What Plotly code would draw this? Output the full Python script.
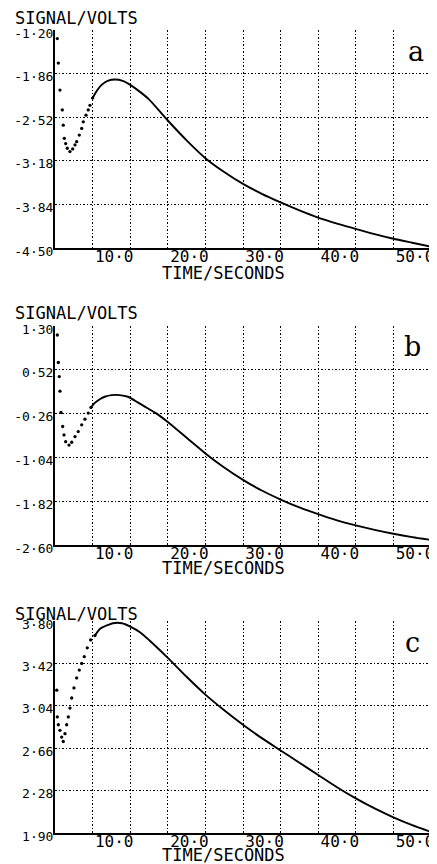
import plotly.graph_objects as go

# page shows the figure with an 8px body margin, so the figure is drawn
# 8px smaller and all pixel positions below are given in window pixels
PAGE_OFFSET = 8
W, H = 437 - PAGE_OFFSET, 864 - PAGE_OFFSET

# ---------------- data ----------------
time_ticks = [5, 10, 15, 20, 25, 30, 35, 40, 45, 50]
time_labels = ["", "10·0", "", "20·0", "", "30·0", "", "40·0", "", "50·0"]

# panel a
a_dot_t = [0.31, 0.44, 0.66, 0.97, 1.10, 1.24, 1.42, 1.63, 1.99, 2.35, 2.66, 2.88,
           3.23, 3.55, 3.76, 4.12, 4.42, 4.65, 5.00]
a_dot_v = [-1.33, -1.70, -2.11, -2.41, -2.64, -2.84, -2.92, -2.99, -3.04, -3.00, -2.94, -2.89,
           -2.79, -2.69, -2.59, -2.49, -2.41, -2.34, -2.23]
a_line_t = [5.0, 5.5, 6.2, 7.0, 8.0, 9.0, 10.0, 11.0, 12.5, 15.0, 17.5, 20.0, 22.5, 25.0,
            27.5, 30.0, 32.5, 35.0, 37.5, 40.0, 42.5, 45.0, 47.5, 50.0]
a_line_v = [-2.23, -2.13, -2.03, -1.97, -1.95, -1.97, -2.03, -2.11, -2.25, -2.57, -2.87, -3.14,
            -3.35, -3.53, -3.68, -3.81, -3.93, -4.04, -4.13, -4.21, -4.29, -4.36, -4.42, -4.48]
a_yticks = [-4.50, -3.84, -3.18, -2.52, -1.86, -1.20]

# panel b
b_dot_t = [0.31, 0.44, 0.57, 0.66, 0.80, 1.02, 1.20, 1.42, 1.86, 2.22, 2.66, 3.09,
           3.55, 3.98, 4.42, 4.78]
b_dot_v = [1.14, 0.65, 0.40, 0.14, -0.24, -0.49, -0.64, -0.76, -0.82, -0.77, -0.67, -0.58,
           -0.46, -0.36, -0.25, -0.15]
b_line_t = [4.78, 5.3, 6.0, 6.6, 7.5, 8.6, 9.7, 11.0, 12.0, 13.5, 15.0, 17.5, 20.0, 22.5,
            25.0, 27.5, 30.0, 32.5, 35.0, 37.5, 40.0, 42.5, 45.0, 47.5, 50.0]
b_line_v = [-0.15, -0.07, 0.00, 0.04, 0.07, 0.07, 0.04, -0.06, -0.14, -0.26, -0.41, -0.69,
            -0.97, -1.22, -1.44, -1.63, -1.79, -1.93, -2.05, -2.16, -2.25, -2.33, -2.40,
            -2.46, -2.51]
b_yticks = [-2.60, -1.82, -1.04, -0.26, 0.52, 1.30]

# panel c
c_dot_t = [0.23, 0.31, 0.44, 0.66, 0.89, 1.10, 1.33, 1.55, 1.77, 1.99, 2.22, 2.52, 2.88,
           3.23, 3.55, 3.89, 4.29, 4.74, 5.31]
c_dot_v = [3.18, 2.94, 2.87, 2.82, 2.76, 2.72, 2.79, 2.87, 2.94, 3.02, 3.11, 3.20, 3.29,
           3.36, 3.42, 3.48, 3.56, 3.63, 3.67]
c_line_t = [5.31, 6.0, 6.9, 7.7, 8.9, 10.0, 11.3, 12.5, 15.0, 17.5, 20.0, 22.5, 25.0,
            27.5, 30.0, 32.5, 35.0, 37.5, 40.0, 42.5, 45.0, 47.5, 50.0]
c_line_v = [3.67, 3.73, 3.76, 3.78, 3.78, 3.75, 3.70, 3.63, 3.47, 3.30, 3.14, 3.00, 2.87,
            2.75, 2.64, 2.53, 2.42, 2.31, 2.21, 2.12, 2.04, 1.97, 1.91]
c_yticks = [1.90, 2.28, 2.66, 3.04, 3.42, 3.80]

panel_letters = ["a", "b", "c"]
y_title = "SIGNAL/VOLTS"
x_title = "TIME/SECONDS"

# ---------------- layout geometry (window pixels) ----------------
X_LEFT, X_RIGHT = 55, 431
panels_px = [(30, 248), (326, 545), (621, 833)]      # top, bottom
ytitle_px = [18, 313, 614]
xtitle_px = [273, 568, 855]
letter_px = [(416, 52), (412, 347), (412, 642)]

MONO = "DejaVu Sans Mono"


def px_x(p):
    return (p - PAGE_OFFSET) / W


def px_y(p):
    return 1 - (p - PAGE_OFFSET) / H


def fmt_y(v):
    return f"{v:.2f}".replace(".", "·")


fig = go.Figure()
series = [
    (a_dot_t, a_dot_v, a_line_t, a_line_v, a_yticks),
    (b_dot_t, b_dot_v, b_line_t, b_line_v, b_yticks),
    (c_dot_t, c_dot_v, c_line_t, c_line_v, c_yticks),
]

grid_common = dict(
    showgrid=True, gridcolor="black", gridwidth=1.2, griddash="1.5px,2px",
    zeroline=False, showline=True, linecolor="black", linewidth=2,
    ticks="", ticklen=0, color="black", automargin=False,
)

annotations = []
for i, (dt, dv, lt, lv, yt) in enumerate(series):
    n = "" if i == 0 else str(i + 1)
    xa, ya = "x" + n, "y" + n
    fig.add_trace(go.Scatter(x=lt, y=lv, mode="lines", xaxis=xa, yaxis=ya,
                             line=dict(color="black", width=1.9, shape="spline", smoothing=0.6),
                             showlegend=False, hoverinfo="skip"))
    fig.add_trace(go.Scatter(x=dt, y=dv, mode="markers", xaxis=xa, yaxis=ya,
                             marker=dict(color="black", size=3.3),
                             showlegend=False, hoverinfo="skip"))
    top, bot = panels_px[i]
    fig.layout["xaxis" + n] = dict(
        domain=[px_x(X_LEFT), px_x(X_RIGHT)], range=[0, 50], anchor=ya,
        tickmode="array", tickvals=time_ticks, ticktext=time_labels,
        tickfont=dict(family=MONO, size=16, color="black"),
        ticklabelshift=-16, ticklabelstandoff=-7,
        **grid_common,
    )
    fig.layout["yaxis" + n] = dict(
        domain=[px_y(bot), px_y(top)], range=[yt[0], yt[-1]], anchor=xa,
        tickmode="array", tickvals=yt, ticktext=[fmt_y(v) for v in yt],
        tickfont=dict(family=MONO, size=13, color="black"),
        ticklabelstandoff=-3, ticklabelshift=3,
        **grid_common,
    )
    annotations.append(dict(text=y_title, xref="paper", yref="paper",
                            x=px_x(13), y=px_y(ytitle_px[i]), xanchor="left", yanchor="middle",
                            showarrow=False, font=dict(family=MONO, size=17, color="black")))
    annotations.append(dict(text=x_title, xref="paper", yref="paper",
                            x=px_x(223), y=px_y(xtitle_px[i]), xanchor="center", yanchor="middle",
                            showarrow=False, font=dict(family=MONO, size=17, color="black")))
    lx, ly = letter_px[i]
    annotations.append(dict(text=panel_letters[i], xref="paper", yref="paper",
                            x=px_x(lx), y=px_y(ly), xanchor="center", yanchor="middle",
                            showarrow=False, font=dict(family="DejaVu Serif", size=27, color="black")))

fig.update_layout(
    width=W, height=H, margin=dict(l=0, r=0, t=0, b=0, autoexpand=False),
    paper_bgcolor="white", plot_bgcolor="white",
    annotations=annotations,
)

fig.write_html("out.html")
